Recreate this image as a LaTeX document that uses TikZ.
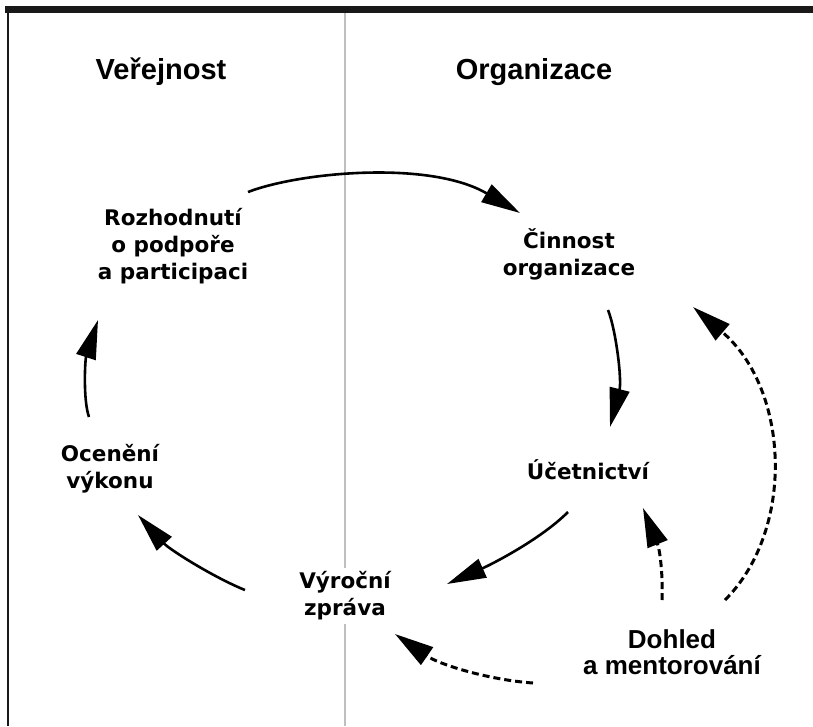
\documentclass[tikz,border=0pt]{standalone}
\usepackage{fontspec}
\newfontfamily\vfont{DejaVu Sans}
\newfontfamily\afont{Liberation Sans}
\usetikzlibrary{arrows.meta}
\begin{document}
\begin{tikzpicture}[x=1pt,y=-1pt,
  lbl/.style={font=\vfont\bfseries\fontsize{21.5}{27}\selectfont, align=center, fill=white, inner sep=4pt},
  dlbl/.style={font=\afont\bfseries\fontsize{26}{26}\selectfont, align=center, fill=white, inner sep=4pt},
  hdr/.style={font=\afont\bfseries\fontsize{29}{34}\selectfont, anchor=base, inner sep=0pt},
  arr/.style={line width=2.6pt, -{Triangle[length=39pt,width=20pt]}},
  darr/.style={line width=3pt, dash pattern=on 7pt off 4pt, -{Triangle[length=39pt,width=21pt]}}
]
\useasboundingbox (0,0) rectangle (813,726);
\fill[white] (0,0) rectangle (813,726);
% divider and frame
\draw[black!25, line width=1.2pt] (345,13) -- (345,726);
\fill[black!90] (5,6) rectangle (813,13);
\draw[black!90, line width=2.5pt] (8,6) -- (8,726);
% headings
\node[hdr] (pub) at (161,79) {Veřejnost};
\node[hdr] (org) at (534,79) {Organizace};
% nodes
\node[lbl] (rozh) at (173,246) {Rozhodnutí\\o podpoře\\a participaci};
\node[lbl] (cin) at (569,254) {Činnost\\organizace};
\node[lbl, anchor=base] (uce) at (588,479) {Účetnictví};
\node[lbl] (ocen) at (110,469) {Ocenění\\výkonu};
\node[lbl] (vyr) at (345,596) {Výroční\\zpráva};
\node[dlbl] (doh) at (672,652) {Dohled\\a mentorování};
% solid cycle
\draw[arr] ([shift={(75,-54)}]rozh.center) .. controls (300,172) and (430,160) .. ([shift={(-49,-41)}]cin.center);
\draw[arr] ([shift={(39,56)}]cin.center) .. controls (616,330) and (622,380) .. ([shift={(22,-52)}]uce.base);
\draw[arr] ([shift={(-20,33)}]uce.base) .. controls (540,540) and (490,565) .. ([shift={(102,-12)}]vyr.center);
\draw[arr] ([shift={(-100,-6)}]vyr.center) .. controls (215,578) and (170,550) .. ([shift={(28,46)}]ocen.center);
\draw[arr] ([shift={(-21,-52)}]ocen.center) .. controls (83,400) and (85,360) .. ([shift={(-75,74)}]rozh.center);
% dashed
\draw[darr] ([shift={(-139,31)}]doh.center) .. controls (490,680) and (440,665) .. ([shift={(50,38)}]vyr.center);
\draw[darr] ([shift={(-10,-52)}]doh.center) .. controls (663,575) and (660,550) .. ([shift={(55,29)}]uce.base);
\draw[darr] ([shift={(53,-52)}]doh.center) .. controls (795,530) and (790,390) .. ([shift={(124,53)}]cin.center);
\end{tikzpicture}
\end{document}
